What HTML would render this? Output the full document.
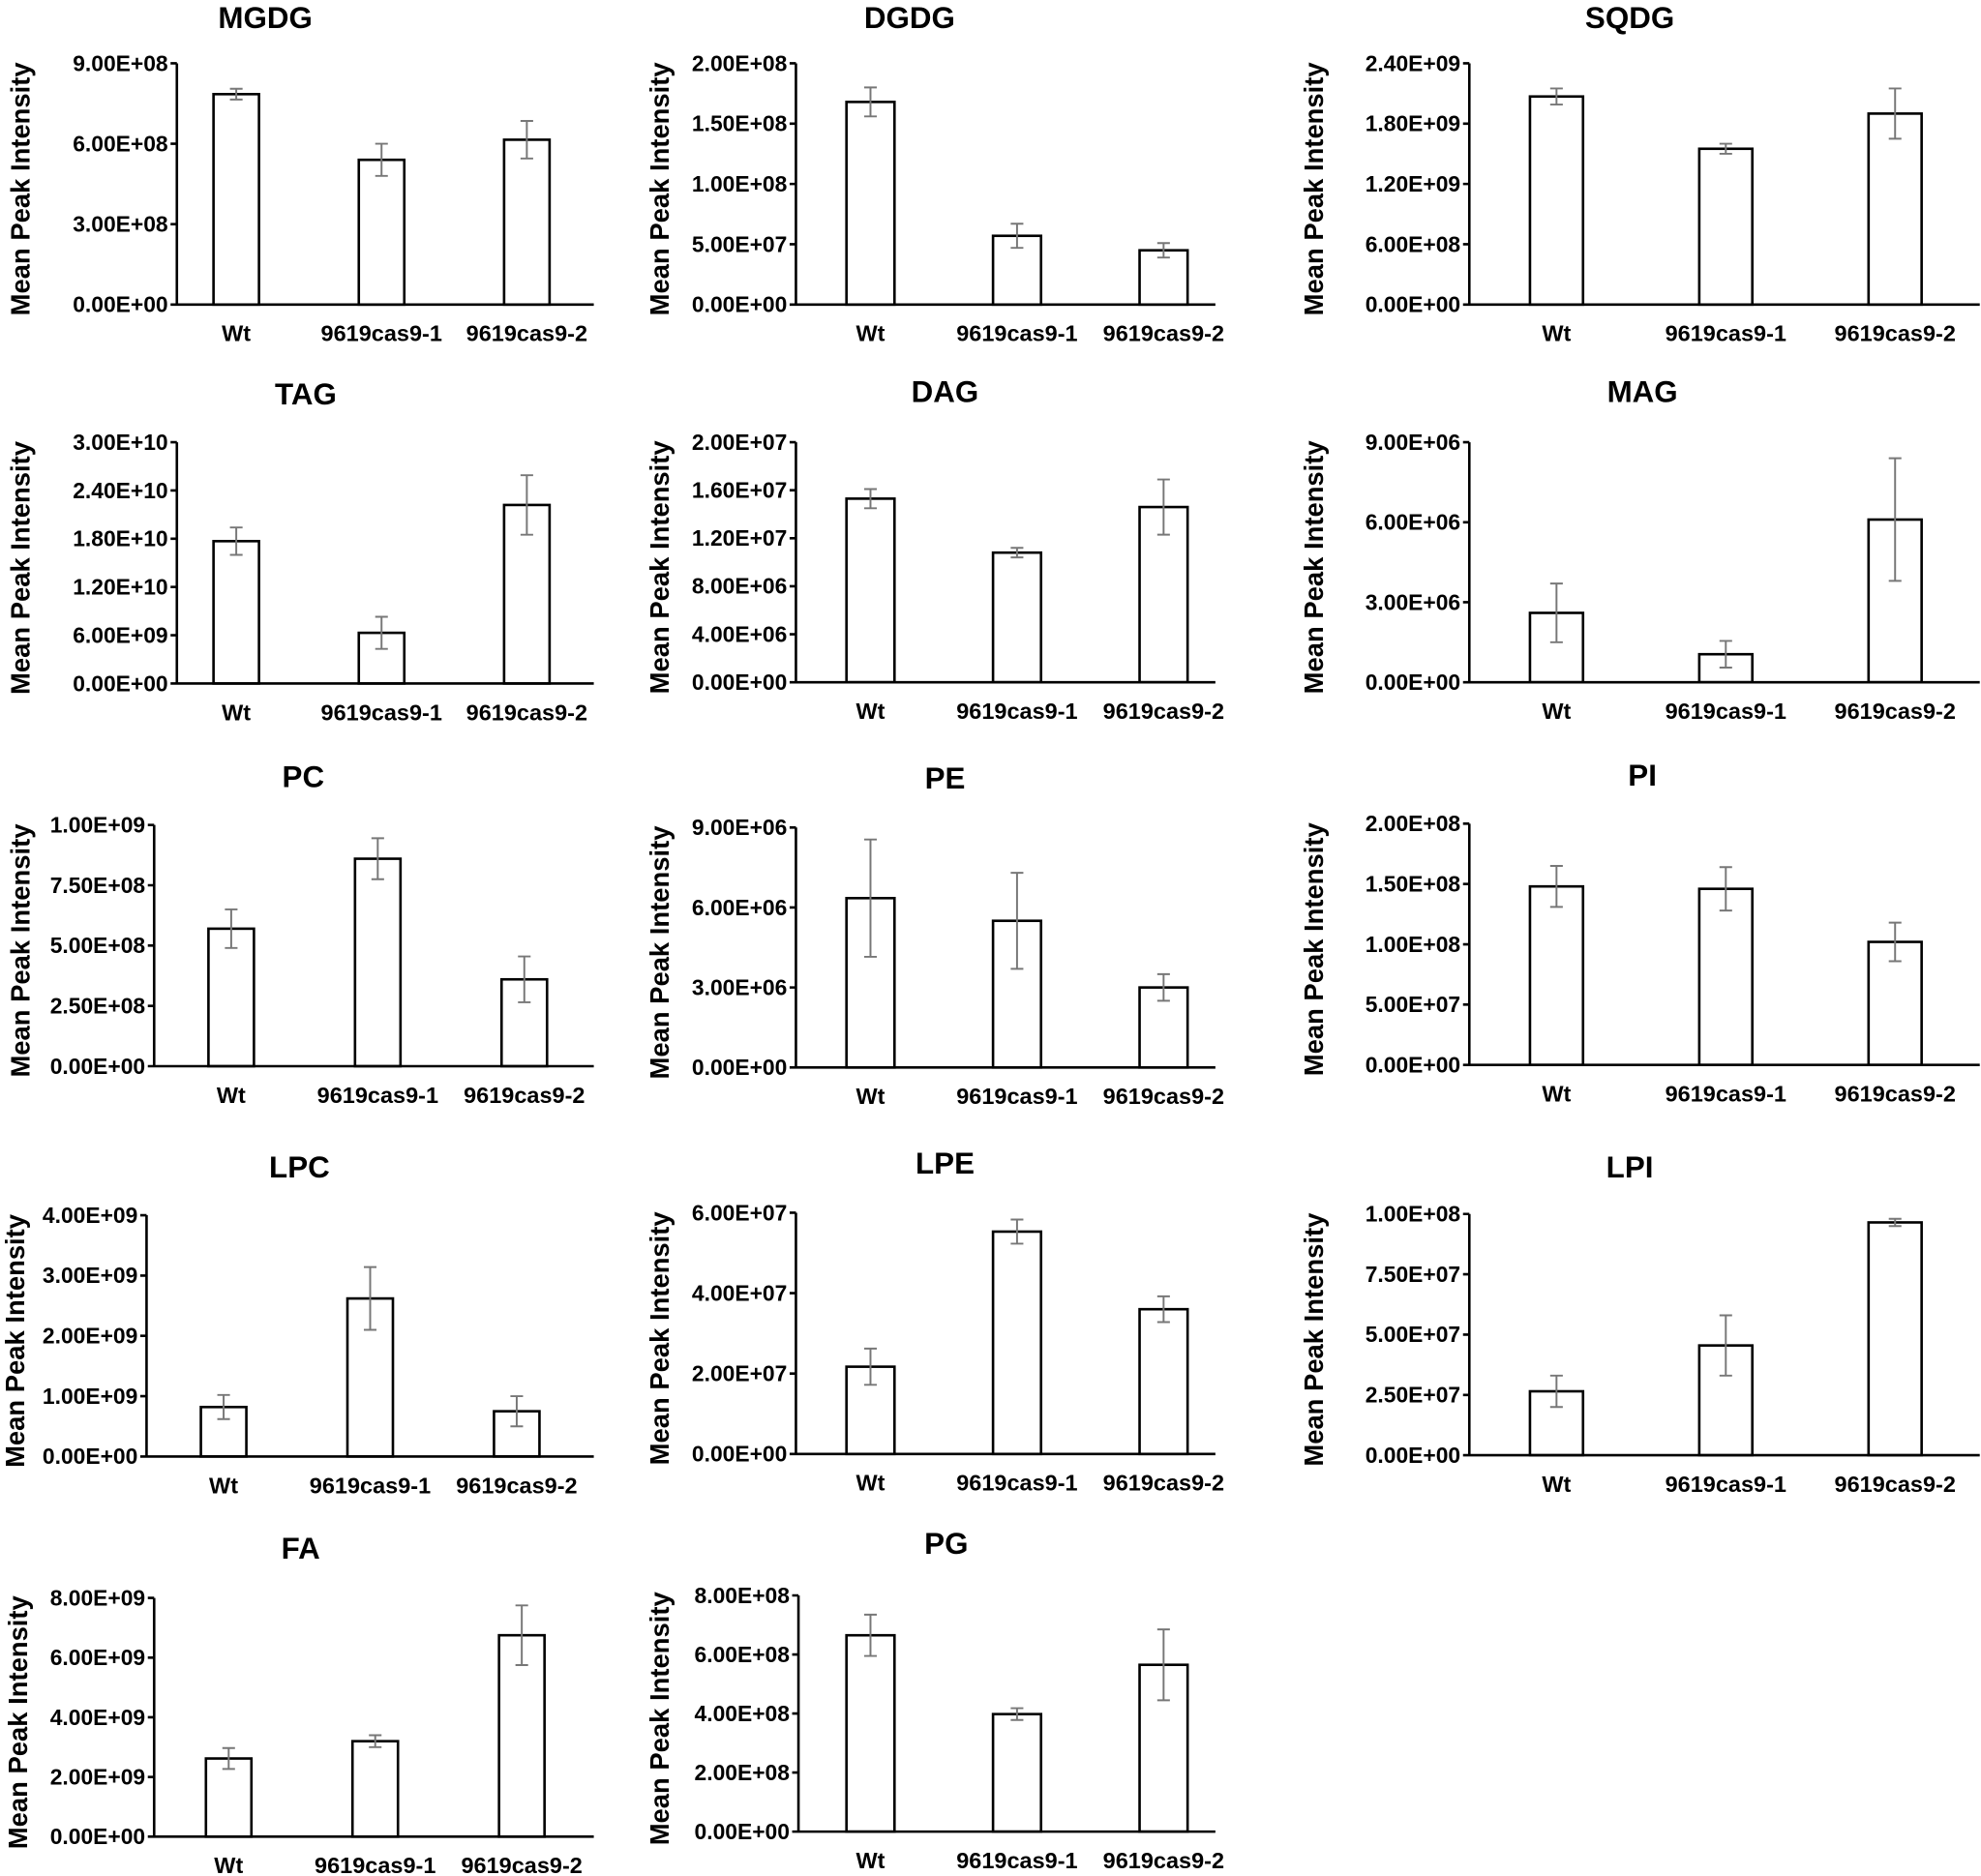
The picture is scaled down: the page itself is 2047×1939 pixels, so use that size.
<!DOCTYPE html>
<html><head><meta charset="utf-8"><style>
html,body{margin:0;padding:0;background:#fff;}
svg{display:block;font-family:"Liberation Sans",Arial,sans-serif;}
</style></head><body>
<svg id="chart" width="2047" height="1939" viewBox="0 0 1568 1485" xmlns="http://www.w3.org/2000/svg"></svg>
<script>
const categories = ["Wt", "9619cas9-1", "9619cas9-2"];
const titles = ["MGDG","DGDG","SQDG","TAG","DAG","MAG","PC","PE","PI","LPC","LPE","LPI","FA","PG"];
const meanValues = [
  [7.85e8, 5.4e8, 6.15e8],
  [1.68e8, 0.57e8, 0.45e8],
  [2.07e9, 1.55e9, 1.9e9],
  [1.77e10, 0.63e10, 2.22e10],
  [1.53e7, 1.08e7, 1.46e7],
  [2.6e6, 1.05e6, 6.1e6],
  [5.7e8, 8.6e8, 3.6e8],
  [6.35e6, 5.5e6, 3.0e6],
  [1.48e8, 1.46e8, 1.02e8],
  [0.82e9, 2.62e9, 0.75e9],
  [2.17e7, 5.53e7, 3.6e7],
  [2.65e7, 4.55e7, 9.65e7],
  [2.62e9, 3.2e9, 6.75e9],
  [6.65e8, 3.98e8, 5.65e8]
];
const errorValues = [
  [0.2e8, 0.6e8, 0.7e8],
  [0.12e8, 0.1e8, 0.06e8],
  [0.08e9, 0.05e9, 0.25e9],
  [0.17e10, 0.2e10, 0.37e10],
  [0.08e7, 0.04e7, 0.23e7],
  [1.1e6, 0.5e6, 2.3e6],
  [0.8e8, 0.85e8, 0.95e8],
  [2.2e6, 1.8e6, 0.5e6],
  [0.17e8, 0.18e8, 0.16e8],
  [0.2e9, 0.52e9, 0.25e9],
  [0.45e7, 0.3e7, 0.32e7],
  [0.65e7, 1.25e7, 0.15e7],
  [0.35e9, 0.2e9, 1.0e9],
  [0.7e8, 0.2e8, 1.2e8]
];
const tickLabels = [
  ["0.00E+00","3.00E+08","6.00E+08","9.00E+08"],
  ["0.00E+00","5.00E+07","1.00E+08","1.50E+08","2.00E+08"],
  ["0.00E+00","6.00E+08","1.20E+09","1.80E+09","2.40E+09"],
  ["0.00E+00","6.00E+09","1.20E+10","1.80E+10","2.40E+10","3.00E+10"],
  ["0.00E+00","4.00E+06","8.00E+06","1.20E+07","1.60E+07","2.00E+07"],
  ["0.00E+00","3.00E+06","6.00E+06","9.00E+06"],
  ["0.00E+00","2.50E+08","5.00E+08","7.50E+08","1.00E+09"],
  ["0.00E+00","3.00E+06","6.00E+06","9.00E+06"],
  ["0.00E+00","5.00E+07","1.00E+08","1.50E+08","2.00E+08"],
  ["0.00E+00","1.00E+09","2.00E+09","3.00E+09","4.00E+09"],
  ["0.00E+00","2.00E+07","4.00E+07","6.00E+07"],
  ["0.00E+00","2.50E+07","5.00E+07","7.50E+07","1.00E+08"],
  ["0.00E+00","2.00E+09","4.00E+09","6.00E+09","8.00E+09"],
  ["0.00E+00","2.00E+08","4.00E+08","6.00E+08","8.00E+08"]
];
const axisMax = [9e8,2e8,2.4e9,3e10,2e7,9e6,1e9,9e6,2e8,4e9,6e7,1e8,8e9,8e8];

// layout (not data)
const layout = [
  {ax:140,top:50,bot:241,c0:187,sp:115,end:470,bw:36,tx:210,ty:22,yt:16},
  {ax:630,top:50,bot:241,c0:689,sp:116,end:962,bw:38,tx:720,ty:22,yt:522},
  {ax:1163,top:50,bot:241,c0:1232,sp:134,end:1567,bw:42,tx:1290,ty:22,yt:1040},
  {ax:140,top:350,bot:541,c0:187,sp:115,end:470,bw:36,tx:242,ty:320,yt:16},
  {ax:630,top:350,bot:540,c0:689,sp:116,end:962,bw:38,tx:748,ty:318,yt:522},
  {ax:1163,top:350,bot:540,c0:1232,sp:134,end:1567,bw:42,tx:1300,ty:318,yt:1040},
  {ax:122,top:653,bot:844,c0:183,sp:116,end:470,bw:36,tx:240,ty:623,yt:16},
  {ax:630,top:655,bot:845,c0:689,sp:116,end:962,bw:38,tx:748,ty:624,yt:522},
  {ax:1163,top:652,bot:843,c0:1232,sp:134,end:1567,bw:42,tx:1300,ty:622,yt:1040},
  {ax:116,top:962,bot:1153,c0:177,sp:116,end:470,bw:36,tx:237,ty:932,yt:12},
  {ax:630,top:960,bot:1151,c0:689,sp:116,end:962,bw:38,tx:748,ty:929,yt:522},
  {ax:1163,top:961,bot:1152,c0:1232,sp:134,end:1567,bw:42,tx:1290,ty:932,yt:1040},
  {ax:122,top:1265,bot:1454,c0:181,sp:116,end:470,bw:36,tx:238,ty:1234,yt:14},
  {ax:632,top:1263,bot:1450,c0:689,sp:116,end:962,bw:38,tx:749,ty:1230,yt:522}
];
const NS = "http://www.w3.org/2000/svg";
const svg = document.getElementById("chart");
function mk(tag, attrs, parent, text){
  const e = document.createElementNS(NS, tag);
  for (const k in attrs) e.setAttribute(k, attrs[k]);
  if (text !== undefined) e.textContent = text;
  parent.appendChild(e);
  return e;
}
titles.forEach((t, p) => {
  const L = layout[p];
  const g = mk("g", {}, svg);
  
  
  const yScale = v => L.bot - (v / axisMax[p]) * (L.bot - L.top);
  const xScale = i => L.c0 + i * L.sp;
  const title = mk("text", {x:L.tx, y:L.ty, "text-anchor":"middle", "font-size":24, "font-weight":"bold"}, g, t);
  
  
  const yt = mk("text", {x:0, y:0, "text-anchor":"middle", "font-size":21, "font-weight":"bold",
    transform:`translate(${L.yt},${(L.top+L.bot)/2+4}) rotate(-90)`, "dominant-baseline":"central"}, g, "Mean Peak Intensity");
  
  
  meanValues[p].forEach((v, i) => {
    const x = xScale(i), y = yScale(v);
    const b = mk("rect", {x:x - L.bw/2, y:y, width:L.bw, height:L.bot - y, fill:"#fff", stroke:"#000", "stroke-width":2}, g);
    
    
    const e = errorValues[p][i];
    const y1 = yScale(v + e), y2 = yScale(v - e);
    const eb = mk("path", {d:`M${x},${y1}V${y2}M${x-5},${y1}H${x+5}M${x-5},${y2}H${x+5}`, stroke:"#777", "stroke-width":1.5, fill:"none"}, g);
    
    
    const cl = mk("text", {x:x, y:L.bot + 29, "text-anchor":"middle", "font-size":18, "font-weight":"bold"}, g, categories[i]);
    
    
  });
  const n = tickLabels[p].length - 1;
  let d = `M${L.ax},${L.top}V${L.bot}H${L.end}`;
  tickLabels[p].forEach((lab, k) => {
    const y = yScale(axisMax[p] * k / n);
    d += `M${L.ax-5},${y}H${L.ax}`;
    const tl = mk("text", {x:L.ax - 7, y:y + 6, "text-anchor":"end", "font-size":17.5, "font-weight":"bold"}, g, lab);
    
    
  });
  const ax = mk("path", {d:d, stroke:"#000", "stroke-width":2, fill:"none"}, g);
  
  
});
</script>
</body></html>
